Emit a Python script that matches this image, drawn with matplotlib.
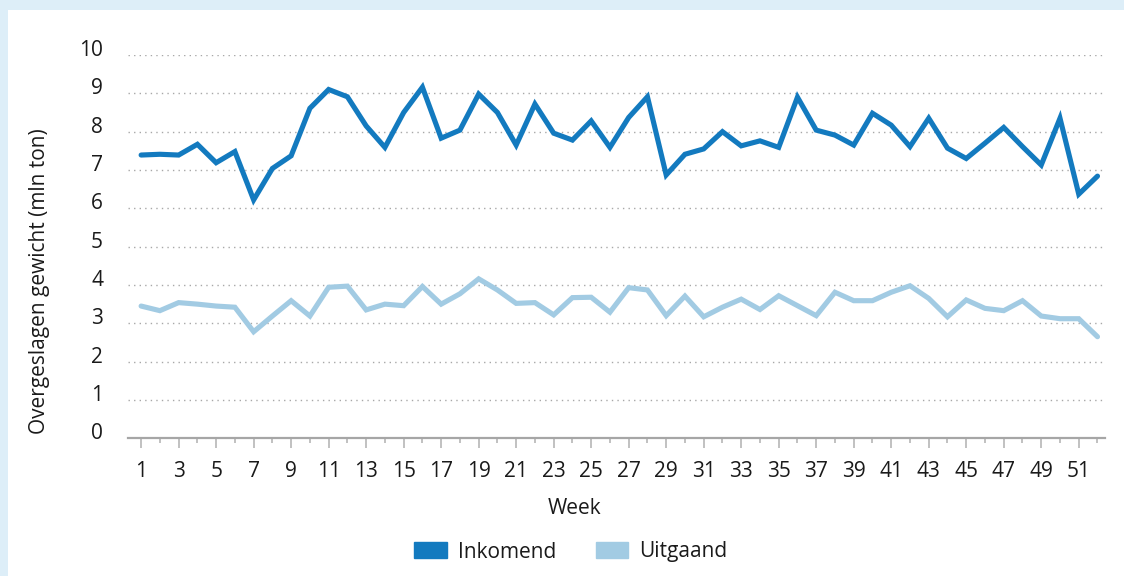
import matplotlib.pyplot as plt
import matplotlib.patches as mpatches
import matplotlib.transforms as mtransforms
import numpy as np

plt.rcParams['font.family'] = ['Open Sans', 'DejaVu Sans']

weeks = np.arange(1, 53)
inkomend = [7.39, 7.41, 7.39, 7.67, 7.19, 7.48, 6.22, 7.04, 7.37, 8.61,
            9.10, 8.91, 8.15, 7.59, 8.50, 9.16, 7.83, 8.04, 8.98, 8.50,
            7.65, 8.72, 7.96, 7.78, 8.28, 7.59, 8.37, 8.91, 6.87, 7.41,
            7.55, 8.00, 7.63, 7.76, 7.59, 8.90, 8.04, 7.91, 7.65, 8.48,
            8.17, 7.61, 8.35, 7.57, 7.30, 7.70, 8.11, 7.61, 7.13, 8.35,
            6.37, 6.84]
uitgaand = [3.45, 3.33, 3.54, 3.50, 3.45, 3.42, 2.78, 3.19, 3.59, 3.19,
            3.94, 3.97, 3.35, 3.50, 3.46, 3.96, 3.50, 3.77, 4.16, 3.87,
            3.52, 3.54, 3.22, 3.67, 3.68, 3.29, 3.93, 3.87, 3.20, 3.71,
            3.17, 3.42, 3.63, 3.36, 3.72, 3.46, 3.20, 3.81, 3.59, 3.59,
            3.81, 3.98, 3.65, 3.17, 3.61, 3.39, 3.33, 3.59, 3.19, 3.12,
            3.12, 2.65]

donker = '#137abf'
licht = '#a2cbe3'
rand = '#ddeef8'
fs = 15

fig = plt.figure(figsize=(11.24, 5.76), dpi=100, facecolor=rand)
# witte kaart binnen de lichtblauwe rand
fig.patches.append(mpatches.Rectangle((8 / 1124, 0), 1, 1 - 10 / 576,
                                      transform=fig.transFigure,
                                      facecolor='white', edgecolor='none', zorder=-10))

ax = fig.add_axes([128 / 1124, 1 - 438.3 / 576, (1105 - 128) / 1124, (438.3 - 55) / 576])
ax.set_facecolor('none')

ax.plot(weeks, uitgaand, color=licht, lw=3.7, solid_capstyle='round',
        solid_joinstyle='miter', label='Uitgaand', zorder=3)
ax.plot(weeks, inkomend, color=donker, lw=3.7, solid_capstyle='round',
        solid_joinstyle='miter', label='Inkomend', zorder=4)

ax.set_xlim(0.3, 52.4)
ax.set_ylim(0, 10)
ax.set_yticks(range(0, 11))
ax.set_xticks(weeks[::2])
ax.set_xticks(weeks[1::2], minor=True)

ax.grid(axis='y', color='#a8a8a8', lw=1, linestyle=(0, (1, 3)))
ax.set_axisbelow(True)
for s in ['top', 'right', 'left']:
    ax.spines[s].set_visible(False)
ax.spines['bottom'].set_color('#a6a6a6')
ax.spines['bottom'].set_linewidth(1.6)

ax.tick_params(axis='y', length=0, pad=18, labelsize=fs, labelcolor='#1a1a1a')
ax.tick_params(axis='x', which='major', length=7.5, width=1.1, color='#b0b0b0',
               pad=9, labelsize=fs, labelcolor='#1a1a1a')
ax.tick_params(axis='x', which='minor', length=3.8, width=1.1, color='#b0b0b0')

# y-labels staan iets boven hun rasterlijn
omhoog = mtransforms.ScaledTranslation(0, 7 / 100, fig.dpi_scale_trans)
for lbl in ax.get_yticklabels():
    lbl.set_transform(lbl.get_transform() + omhoog)

fig.text(40 / 1124, 1 - 281 / 576, 'Overgeslagen gewicht (mln ton)', rotation=90,
         ha='center', va='center', fontsize=fs, color='#1a1a1a')
fig.text(574 / 1124, 1 - 508 / 576, 'Week', ha='center', va='center',
         fontsize=fs, color='#1a1a1a')

handles = [mpatches.Patch(color=donker, label='Inkomend'),
           mpatches.Patch(color=licht, label='Uitgaand')]
fig.legend(handles=handles, loc='center', bbox_to_anchor=(571 / 1124, 1 - 552 / 576),
           ncol=2, frameon=False, fontsize=fs, handlelength=1.55, handleheight=0.8,
           handletextpad=0.55, columnspacing=1.9, labelcolor='#1a1a1a')

fig.savefig('out.png', dpi=100, facecolor=rand)
